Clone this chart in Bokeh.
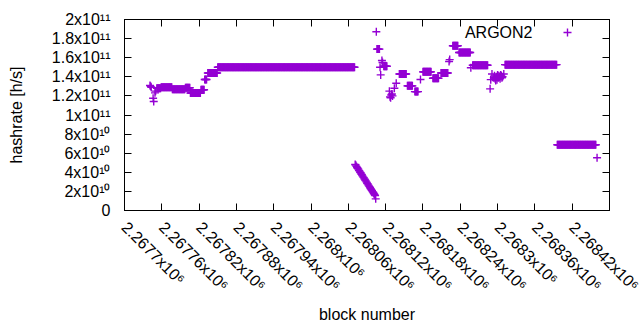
import math
import numpy as np
from bokeh.plotting import figure
from bokeh.models import (Range1d, FixedTicker, CustomJSTickFormatter, LinearAxis,
                          Legend, LegendItem, ColumnDataSource, Label)
from bokeh.embed import file_html
from bokeh.resources import INLINE

# ---------------- data ----------------
# runs of consecutive blocks with the same hashrate
run_first_block = [2267752, 2267759, 2267777, 2267798, 2267806, 2267823, 2267829, 2267834,
                   2267850, 2268106, 2268117, 2268142, 2268155, 2268167, 2268180, 2268196,
                   2268209, 2268228, 2268238, 2268260, 2268312, 2268396]
run_last_block = [2267758, 2267776, 2267797, 2267805, 2267822, 2267828, 2267832, 2267849,
                  2268070, 2268110, 2268122, 2268153, 2268163, 2268172, 2268193, 2268205,
                  2268220, 2268236, 2268256, 2268284, 2268395, 2268458]
run_hashrate = [1.28e11, 1.29e11, 1.27e11, 1.286e11, 1.23e11, 1.265e11, 1.372e11, 1.44e11,
                1.50e11, 1.69e11, 1.51e11, 1.43e11, 1.305e11, 1.245e11, 1.452e11, 1.385e11,
                1.44e11, 1.725e11, 1.654e11, 1.521e11, 1.527e11, 6.88e10]

# individual blocks
single_block = [2267741, 2267742, 2267743, 2267746, 2267747, 2267749, 2267750,
                2268071, 2268072, 2268073, 2268074, 2268075, 2268076, 2268077, 2268078,
                2268079, 2268080, 2268081, 2268082, 2268083, 2268084, 2268085, 2268086,
                2268087, 2268088, 2268089, 2268090, 2268091, 2268092, 2268093, 2268094,
                2268095, 2268096, 2268097, 2268098, 2268099, 2268100, 2268101, 2268102,
                2268103, 2268104,
                2268105, 2268111, 2268112, 2268114, 2268115,
                2268126, 2268127, 2268128, 2268129, 2268130, 2268131, 2268134, 2268137,
                2268176, 2268222, 2268223, 2268257, 2268288, 2268289, 2268291,
                2268294, 2268295, 2268296, 2268297, 2268298, 2268299, 2268300, 2268301,
                2268302, 2268303, 2268304, 2268305, 2268306, 2268307, 2268308, 2268310,
                2268460]
single_hashrate = [1.31e11, 1.30e11, 1.29e11, 1.176e11, 1.141e11, 1.232e11, 1.25e11,
                   4.82e10, 4.75e10, 4.62e10, 4.50e10, 4.42e10, 4.33e10, 4.20e10, 4.12e10,
                   4.00e10, 3.92e10, 3.80e10, 3.72e10, 3.60e10, 3.50e10, 3.42e10, 3.30e10,
                   3.20e10, 3.10e10, 3.00e10, 2.88e10, 2.80e10, 2.68e10, 2.58e10, 2.50e10,
                   2.38e10, 2.28e10, 2.18e10, 2.08e10, 1.98e10, 1.88e10, 1.78e10, 1.68e10,
                   1.57e10, 1.22e10,
                   1.871e11, 1.50e11, 1.42e11, 1.57e11, 1.55e11,
                   1.25e11, 1.19e11, 1.18e11, 1.21e11, 1.22e11, 1.20e11, 1.28e11, 1.333e11,
                   1.372e11, 1.56e11, 1.58e11, 1.494e11, 1.274e11, 1.37e11, 1.43e11,
                   1.39e11, 1.41e11, 1.38e11, 1.36e11, 1.40e11, 1.37e11, 1.42e11, 1.39e11,
                   1.41e11, 1.40e11, 1.38e11, 1.42e11, 1.41e11, 1.39e11, 1.40e11, 1.43e11,
                   5.52e10]

series_name = "ARGON2"

x_ticks = [2267700, 2267760, 2267820, 2267880, 2267940, 2268000, 2268060,
           2268120, 2268180, 2268240, 2268300, 2268360, 2268420, 2268480]
x_tick_labels = ["2.2677x10\u2076", "2.26776x10\u2076", "2.26782x10\u2076", "2.26788x10\u2076",
                 "2.26794x10\u2076", "2.268x10\u2076", "2.26806x10\u2076", "2.26812x10\u2076",
                 "2.26818x10\u2076", "2.26824x10\u2076", "2.2683x10\u2076", "2.26836x10\u2076",
                 "2.26842x10\u2076", ""]
y_ticks = [0, 2e10, 4e10, 6e10, 8e10, 1e11, 1.2e11, 1.4e11, 1.6e11, 1.8e11, 2e11]
y_tick_labels = ["0", "2x10\u00b9\u2070", "4x10\u00b9\u2070", "6x10\u00b9\u2070", "8x10\u00b9\u2070",
                 "1x10\u00b9\u00b9", "1.2x10\u00b9\u00b9", "1.4x10\u00b9\u00b9", "1.6x10\u00b9\u00b9",
                 "1.8x10\u00b9\u00b9", "2x10\u00b9\u00b9"]

# ---------------- build point table ----------------
xs, ys = [], []
for a, b, v in zip(run_first_block, run_last_block, run_hashrate):
    for blk in range(a, b + 1):
        xs.append(blk)
        ys.append(v)
xs += single_block
ys += single_hashrate
src = ColumnDataSource(dict(block=xs, hashrate=ys))

FONT = "Liberation Sans"
COLOR = "#9400D3"

p = figure(width=640, height=330, output_backend="svg", toolbar_location=None,
           x_range=Range1d(2267700, 2268480), y_range=Range1d(0, 2e11),
           min_border_left=124, min_border_right=31, min_border_top=19, min_border_bottom=120,
           x_axis_location=None, y_axis_location=None)
p.grid.visible = False
p.outline_line_color = "black"
p.outline_line_width = 1
p.background_fill_color = "white"
p.border_fill_color = "white"

def fmt(vals, labs):
    return CustomJSTickFormatter(args=dict(vals=vals, labs=labs), code="""
        for (let i = 0; i < vals.length; i++) {
            if (Math.abs(vals[i] - tick) <= 1e-6 * Math.max(1, Math.abs(vals[i]))) return labs[i];
        }
        return '';
    """)

def style(ax):
    ax.axis_line_color = "black"
    ax.major_tick_line_color = "black"
    ax.major_tick_in = 7
    ax.major_tick_out = 0
    ax.minor_tick_line_color = None
    ax.major_label_text_font = FONT
    ax.major_label_text_font_size = "16px"
    ax.major_label_text_color = "black"
    ax.axis_label_text_font = FONT
    ax.axis_label_text_font_size = "16px"
    ax.axis_label_text_font_style = "normal"
    ax.axis_label_text_color = "black"

xb = LinearAxis(ticker=FixedTicker(ticks=x_ticks), formatter=fmt(x_ticks, x_tick_labels),
                axis_label="block number")
style(xb)
xb.major_label_orientation = -math.pi / 4
xb.major_label_standoff = 14
xb.axis_label_standoff = 3
p.add_layout(xb, "below")

yl = LinearAxis(ticker=FixedTicker(ticks=y_ticks), formatter=fmt(y_ticks, y_tick_labels),
                axis_label="hashrate [h/s]")
style(yl)
yl.major_label_standoff = 14
yl.axis_label_standoff = 24
p.add_layout(yl, "left")

empty = CustomJSTickFormatter(code="return '';")
xt = LinearAxis(ticker=FixedTicker(ticks=x_ticks), formatter=empty)
style(xt)
xt.major_label_standoff = 0
p.add_layout(xt, "above")
yr = LinearAxis(ticker=FixedTicker(ticks=y_ticks), formatter=empty)
style(yr)
yr.major_label_standoff = 0
p.add_layout(yr, "right")

r = p.scatter("block", "hashrate", source=src, marker="cross", size=8,
              line_color=COLOR, line_width=1.4)

# gnuplot-style key: text on the left, sample on the right
leg = Legend(items=[LegendItem(label=" ", renderers=[r])], location=(433, 168),
             padding=0, margin=0, glyph_width=20, glyph_height=20, label_height=20,
             label_standoff=0, label_width=0, background_fill_alpha=0, border_line_color=None,
             label_text_font=FONT, label_text_font_size="16px", label_text_color="black")
p.add_layout(leg, "center")
key_text = Label(x=408, y=178, x_units="screen", y_units="screen", text=series_name,
                 text_align="right", text_baseline="middle", text_font=FONT,
                 text_font_size="16px", text_color="black")
p.add_layout(key_text)

open("out.html", "w").write(file_html(p, INLINE))
